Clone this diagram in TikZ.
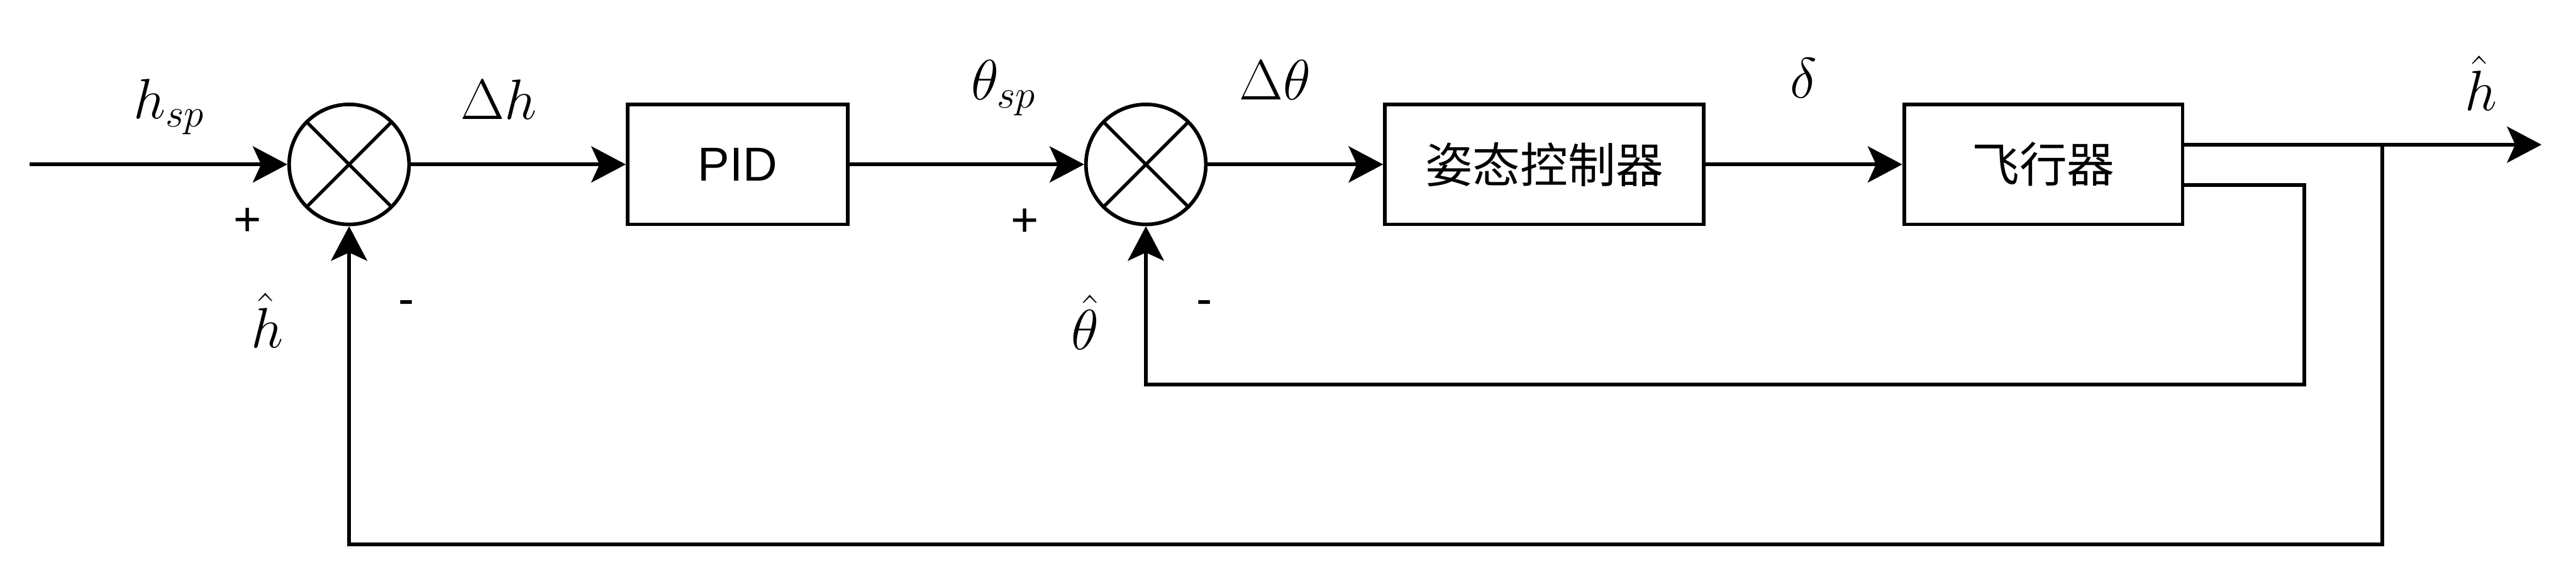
\RequirePackage{fix-cm}
\documentclass[tikz,border=0pt]{standalone}
\usepackage{amsmath}
\usepackage{fontspec}
\newfontfamily\helv{Liberation Sans}
\newfontfamily\cjk{Noto Sans CJK SC}
\usetikzlibrary{arrows.meta, positioning, calc}
\tikzset{
  blockbox/.style={draw, line width=1.25pt, minimum height=1.46cm, inner sep=0pt,
                   font=\helv\fontsize{16.5}{20}\selectfont},
  sumnode/.style={draw, circle, line width=1.25pt, minimum size=1.46cm, inner sep=0pt,
                  path picture={
                    \draw[line width=1.15pt] (path picture bounding box.north west) -- (path picture bounding box.south east)
                      (path picture bounding box.south west) -- (path picture bounding box.north east);}},
  siglabel/.style={font=\fontsize{19.7}{24}\selectfont},
  signlabel/.style={font=\helv\fontsize{16.5}{20}\selectfont},
  wire/.style={line width=1.25pt},
  arr/.style={-{Stealth[length=0.42cm, width=0.44cm, inset=0.1cm]}, line width=1.25pt},
}

\begin{document}
\begin{tikzpicture}
  \useasboundingbox (0,-5.04) rectangle (31.36,2.0);

  %% ── Blocks ──
  \node[sumnode] (sumh) at (4.25,0) {};
  \node[blockbox, minimum width=2.68cm] (pid) at (8.98,0) {PID};
  \node[sumnode] (sumtheta) at (13.95,0) {};
  \node[blockbox, minimum width=3.88cm] (att) at (18.80,0) {\cjk 姿态控制器};
  \node[blockbox, minimum width=3.39cm] (plant) at (24.875,0) {\cjk 飞行器};

  % Free ends and branch points
  \coordinate (hsp) at (0.36,0);
  \coordinate (pout) at ($(plant.east)+(0,0.24)$);
  \coordinate (pfb) at ($(plant.east)+(0,-0.25)$);
  \coordinate (split) at (29.0,0.24);
  \coordinate (hout) at (30.94,0.24);

  %% ── Forward path ──
  \draw[arr] (hsp) -- (sumh.west);
  \draw[arr] (sumh.east) -- (pid.west);
  \draw[arr] (pid.east) -- (sumtheta.west);
  \draw[arr] (sumtheta.east) -- (att.west);
  \draw[arr] (att.east) -- (plant.west);
  \draw[wire] (pout) -- (split);
  \draw[arr] (split) -- (hout);

  %% ── Feedback loops ──
  \draw[arr] (pfb) -- ++(1.46,0) -- ++(0,-2.43) -| (sumtheta.south);
  \draw[arr] (split) -- ++(0,-4.86) -| (sumh.south);

  %% ── Signal labels ──
  \node[siglabel] (lhsp) at (2.06,0.70) {$h_{sp}$};
  \node[siglabel] (ldh) at (6.07,0.79) {$\Delta h$};
  \node[siglabel] (lthsp) at (12.22,0.93) {$\theta_{sp}$};
  \node[siglabel] (ldth) at (15.52,1.03) {$\Delta\theta$};
  \node[siglabel] (ldelta) at (21.96,1.05) {$\delta$};
  \node[siglabel] (lhout) at (30.2,0.99) {$\hat{h}$};
  \node[siglabel] (lhfb) at (3.25,-1.90) {$\hat{h}$};
  \node[siglabel] (lthfb) at (13.21,-1.92) {$\hat{\theta}$};

  % Signs at the summing points
  \node[signlabel] (plush) at (3.01,-0.70) {+};
  \node[signlabel] (minush) at (4.95,-1.74) {-};
  \node[signlabel] (plusth) at (12.48,-0.71) {+};
  \node[signlabel] (minusth) at (14.66,-1.74) {-};
\end{tikzpicture}
\end{document}
